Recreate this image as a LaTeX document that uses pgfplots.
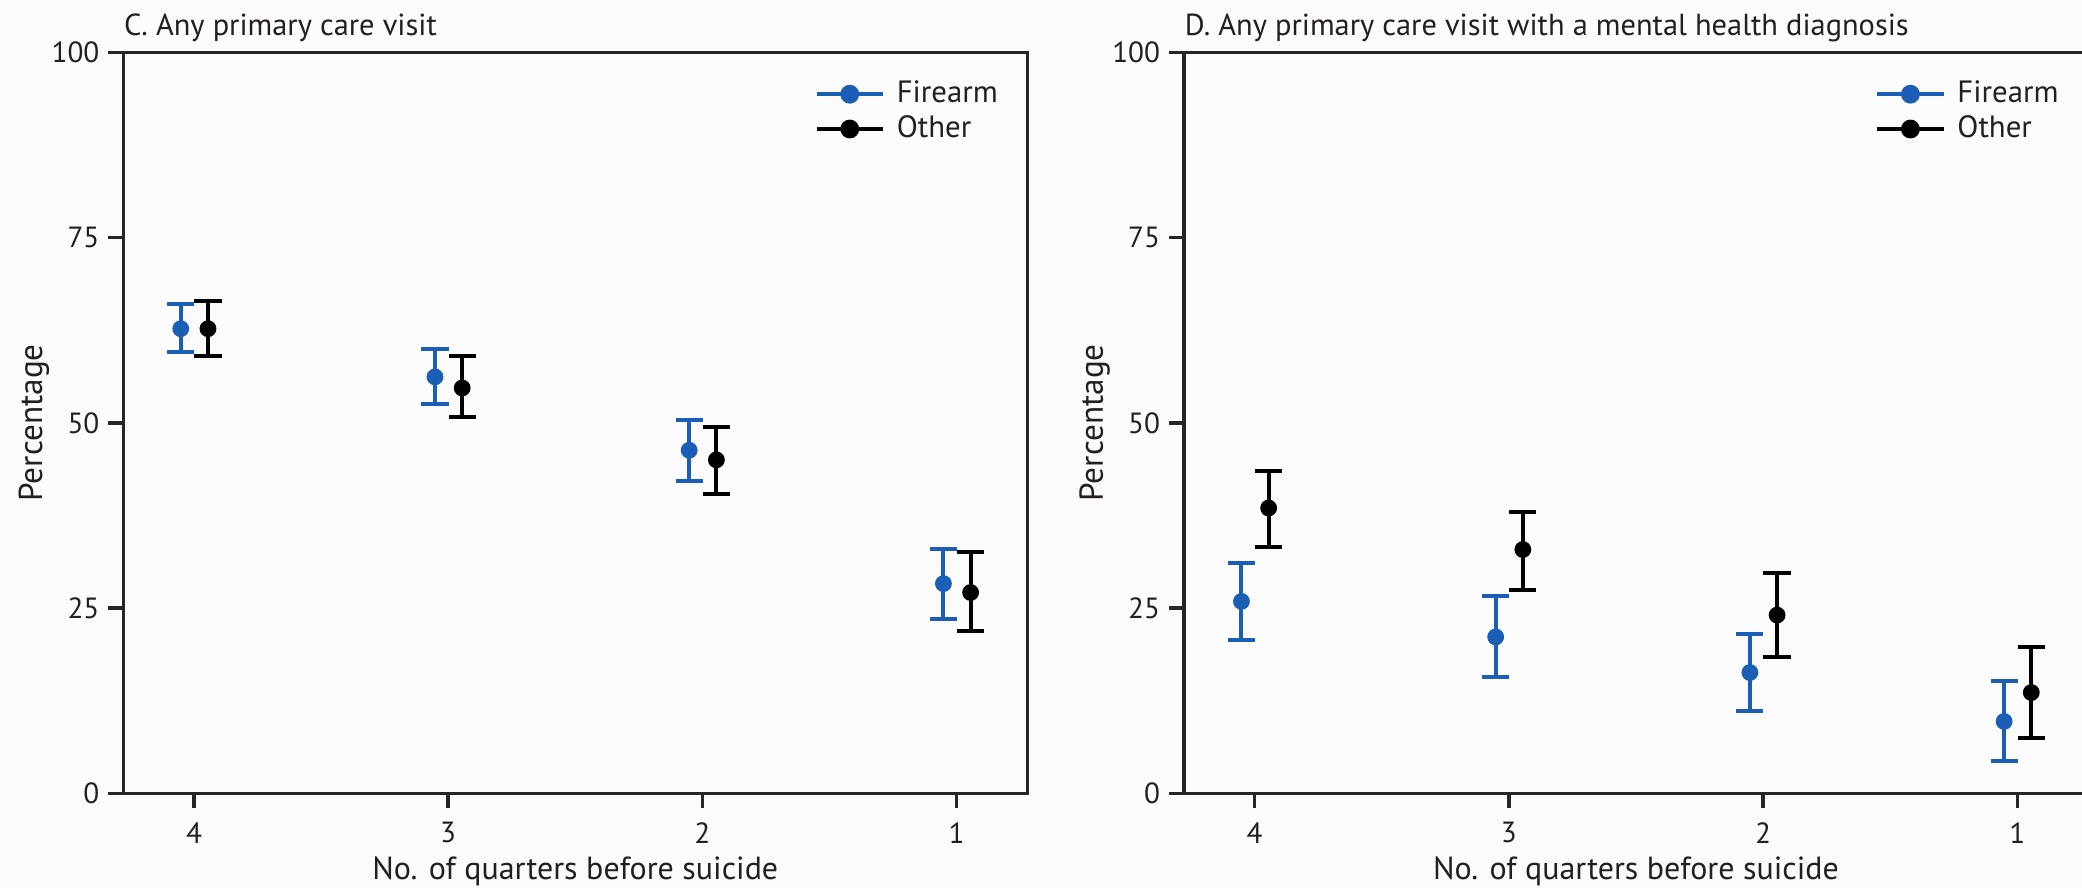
\documentclass[border=0pt]{standalone}
\usepackage{fontspec}
\setmainfont{PT Sans}
\usepackage{pgfplots}
\usepackage{pgfplotstable}
\pgfplotsset{compat=1.18}
\definecolor{fblue}{RGB}{27,94,181}
\definecolor{txt}{RGB}{35,31,32}
\definecolor{bg}{RGB}{250,251,250}

% x = quarter (+/- small offset), y = percentage, ep/em = upper/lower CI distance
\pgfplotstableread{
x      y     ep   em
4.052  62.7  3.3  3.2
3.052  56.2  3.7  3.7
2.052  46.3  4.1  4.2
1.052  28.3  4.7  4.8
}\lfire
\pgfplotstableread{
x      y     ep   em
3.945  62.7  3.7  3.7
2.945  54.7  4.3  3.9
1.945  45.0  4.5  4.6
0.945  27.1  5.5  5.2
}\lother
\pgfplotstableread{
x      y     ep   em
4.052  25.9  5.2  5.2
3.052  21.1  5.5  5.4
2.052  16.3  5.2  5.15
1.052  9.7   5.5  5.4
}\rfire
\pgfplotstableread{
x      y     ep   em
3.945  38.5  5.0  5.2
2.945  32.9  5.1  5.4
1.945  24.05 5.65 5.7
0.945  13.6  6.1  6.1
}\rother

\pgfplotsset{
  panel/.style={
    scale only axis, width=226pt, height=185.25pt,
    xmin=0.722, xmax=4.278, x dir=reverse, ymin=0, ymax=100,
    xtick={1,2,3,4}, ytick={0,25,50,75,100},
    tick pos=left, tick align=outside, major tick length=3.75pt,
    axis line style={line width=0.9pt, black!85},
    tick style={line width=0.9pt, black!85},
    /pgf/number format/assume math mode=true,
    tick label style={font=\fontsize{7.3}{8}\selectfont, text=txt},
    yticklabel style={xshift=1.3pt},
    every axis title/.style={at={(0,1)}, anchor=base west, yshift=4.3pt, inner sep=0pt,
      font=\fontsize{7.6}{8.5}\selectfont, text=txt},
    every axis x label/.style={at={(axis description cs:0.5,0)}, anchor=base,
      yshift=-21.5pt, font=\fontsize{8}{9}\selectfont, text=txt, inner sep=0pt},
    every axis y label/.style={at={(axis description cs:-0.0898,0.5)}, rotate=90,
      anchor=base, font=\fontsize{8.3}{9}\selectfont, text=txt, inner sep=0pt},
    xlabel={No. of quarters before suicide},
    ylabel={Percentage},
    legend image code/.code={\draw[mark repeat=2,mark phase=2,#1]
      plot coordinates {(0pt,0pt) (8.3pt,0pt) (16.6pt,0pt)};},
    legend cell align=left,
    legend style={draw=none, fill=none, at={(0.764,0.968)}, anchor=north west,
      inner sep=0pt, row sep=0pt, column sep=2pt,
      nodes={inner sep=1pt, text height=5.5pt, text depth=1.2pt,
        font=\fontsize{7.7}{8.7}\selectfont, text=txt}},
  },
  ebars/.style={forget plot, only marks, mark=*, mark size=1.9pt,
    mark options={solid, fill=#1, draw=#1},
    error bars/.cd, y dir=both, y explicit,
    error bar style={line width=1pt, #1},
    error mark options={rotate=90, line width=1pt, mark size=3.4pt, #1}},
}

\begin{document}
\begin{tikzpicture}
\useasboundingbox (0,0) rectangle (520.5pt,222pt);
\fill[bg] (0,0) rectangle (520.5pt,222pt);
\begin{axis}[panel, at={(30.83pt,23.67pt)}, anchor=south west,
  title={C. Any primary care visit}]
  \addlegendimage{fblue, line width=0.9pt, mark=*, mark size=1.9pt}
  \addlegendentry{Firearm}
  \addlegendimage{black, line width=0.9pt, mark=*, mark size=1.9pt}
  \addlegendentry{Other}
  \addplot[fblue, ebars=fblue] table[x=x, y=y, y error plus=ep, y error minus=em]{\lfire};
  \addplot[black, ebars=black] table[x=x, y=y, y error plus=ep, y error minus=em]{\lother};
\end{axis}
\begin{axis}[panel, at={(296pt,23.67pt)}, anchor=south west,
  title={D. Any primary care visit with a mental health diagnosis}]
  \addlegendimage{fblue, line width=0.9pt, mark=*, mark size=1.9pt}
  \addlegendentry{Firearm}
  \addlegendimage{black, line width=0.9pt, mark=*, mark size=1.9pt}
  \addlegendentry{Other}
  \addplot[fblue, ebars=fblue] table[x=x, y=y, y error plus=ep, y error minus=em]{\rfire};
  \addplot[black, ebars=black] table[x=x, y=y, y error plus=ep, y error minus=em]{\rother};
\end{axis}
\end{tikzpicture}
\end{document}
